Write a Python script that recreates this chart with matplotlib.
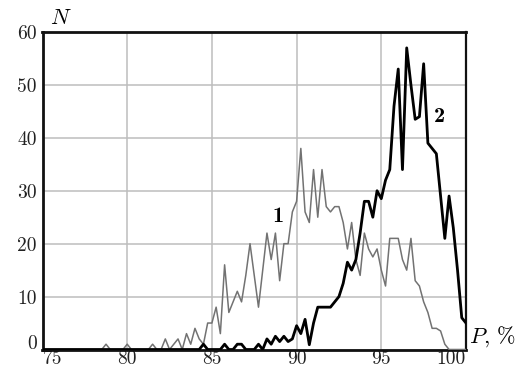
import numpy as np
import matplotlib
matplotlib.use("Agg")
import matplotlib.pyplot as plt
import matplotlib.transforms as mtransforms

plt.rcParams['font.family'] = ['cmr10', 'DejaVu Serif']
plt.rcParams['mathtext.fontset'] = 'cm'
plt.rcParams['axes.formatter.use_mathtext'] = True

# P, % grid (step 0.25 from 75 to 100)
p_values = np.arange(75.0, 100.0001, 0.25)

n_series1 = [
    # 75.00 .. 77.75
    0, 0, 0, 0, 0, 0, 0, 0, 0, 0, 0, 0,
    # 78.00 .. 80.75
    0, 0, 0, 1, 0, 0, 0, 0, 1, 0, 0, 0,
    # 81.00 .. 83.75
    0, 0, 1, 0, 0, 2, 0, 1, 2, 0, 3, 1,
    # 84.00 .. 86.75
    4, 2, 1, 5, 5, 8, 3, 16, 7, 9, 11, 9,
    # 87.00 .. 89.75
    14, 20, 14, 8, 15, 22, 17, 22, 13, 20, 20, 26,
    # 90.00 .. 92.75
    28, 38, 26, 24, 34, 25, 34, 27, 26, 27, 27, 24,
    # 93.00 .. 95.75
    19, 24, 17, 14, 22, 19, 17.5, 19, 15, 12, 21, 21,
    # 96.00 .. 98.75
    21, 17, 15, 21, 13, 12, 9, 7, 4, 4, 3.5, 1,
    # 99.00 .. 100.00
    0, 0, 0, 0, 0,
]

n_series2 = [
    # 75.00 .. 77.75
    0, 0, 0, 0, 0, 0, 0, 0, 0, 0, 0, 0,
    # 78.00 .. 80.75
    0, 0, 0, 0, 0, 0, 0, 0, 0, 0, 0, 0,
    # 81.00 .. 83.75
    0, 0, 0, 0, 0, 0, 0, 0, 0, 0, 0, 0,
    # 84.00 .. 86.75
    0, 0, 1, 0, 0, 0, 0, 1, 0, 0, 1, 1,
    # 87.00 .. 89.75
    0, 0, 0, 1, 0, 2, 1, 2.5, 1.5, 2.5, 1.5, 2,
    # 90.00 .. 92.75
    4.5, 3, 5.7, 0.9, 5, 8, 8, 8, 8, 9, 10, 12.5,
    # 93.00 .. 95.75
    16.5, 15, 17, 22, 28, 28, 25, 30, 28.5, 32, 34, 46,
    # 96.00 .. 98.75
    53, 34, 57, 50, 43.5, 44, 54, 39, 38, 37, 29, 21,
    # 99.00 .. 100.00
    29, 23, 15, 6, 5,
]

x_ticks = [75, 80, 85, 90, 95, 100]
y_ticks = [0, 10, 20, 30, 40, 50, 60]

fig = plt.figure(figsize=(5.21, 3.73), dpi=100)
ax = fig.add_axes([42.5 / 521, 1 - 349.5 / 373, (466 - 42.5) / 521, (349.5 - 32) / 373])

ax.plot(p_values, n_series1, color='#727272', lw=1.1, solid_joinstyle='round', zorder=3)
ax.plot(p_values, n_series2, color='black', lw=2.0, solid_joinstyle='round', zorder=4)

ax.set_xlim(75, 100)
ax.set_ylim(0, 60)
ax.set_xticks(x_ticks)
ax.set_yticks(y_ticks)
ax.set_xticklabels([str(t) for t in x_ticks])
ax.set_yticklabels([str(t) for t in y_ticks])
ax.tick_params(axis='both', length=0, labelsize=14, colors='#222222')
ax.tick_params(axis='x', pad=0.5)
ax.tick_params(axis='y', pad=4)

xl = ax.get_xticklabels()
xl[0].set_ha('left')
xl[-1].set_ha('right')
yl = ax.get_yticklabels()
yl[0].set_transform(yl[0].get_transform() + mtransforms.ScaledTranslation(0, 7 / 100, fig.dpi_scale_trans))

ax.grid(True, color='#bdbdbd', lw=1.1)
ax.set_axisbelow(True)
for side in ['left', 'bottom', 'top']:
    ax.spines[side].set_linewidth(2.0)
ax.spines['right'].set_linewidth(1.6)
for s in ax.spines.values():
    s.set_color('#111111')

ax.text(76.1, 62.6, r'$N$', fontsize=16, ha='center', va='center', clip_on=False)
ax.text(100.2, 2.4, r'$P$, %', fontsize=16, ha='left', va='center', clip_on=False)
ax.text(88.9, 25.2, '1', fontsize=16, fontweight='bold', family=['cmb10', 'DejaVu Serif'],
        ha='center', va='center')
ax.text(98.46, 44.1, '2', fontsize=16, fontweight='bold', family=['cmb10', 'DejaVu Serif'],
        ha='center', va='center')

fig.savefig('out.png', dpi=100, facecolor='white')
